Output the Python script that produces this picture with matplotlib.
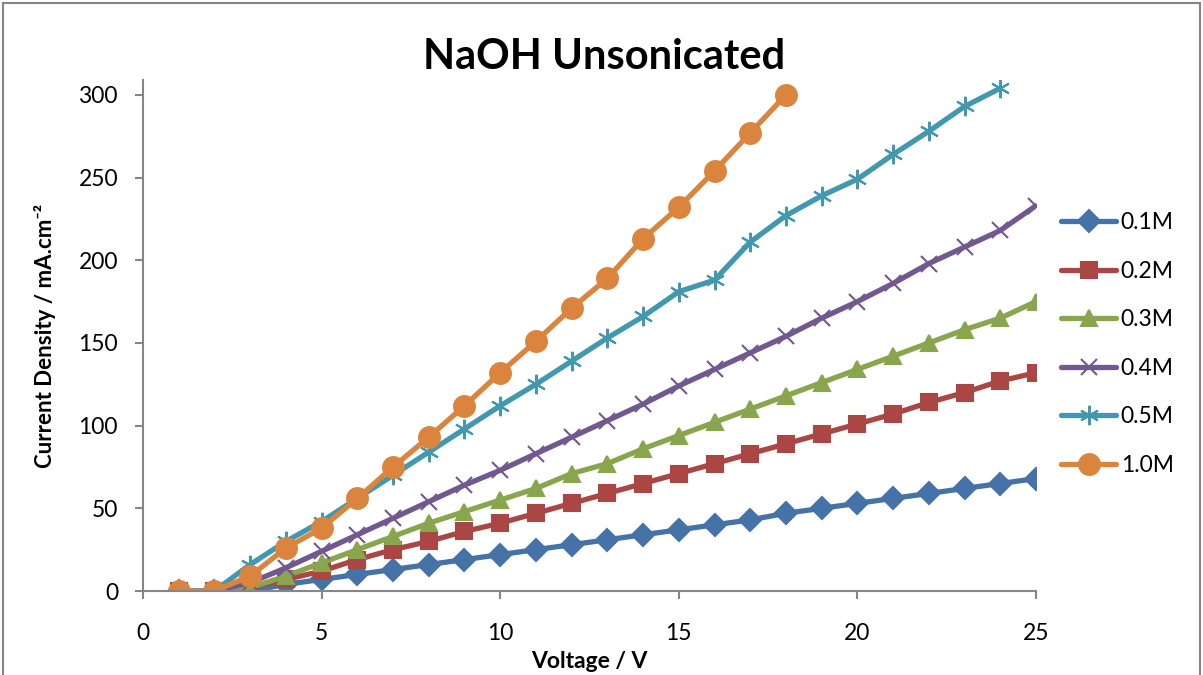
import matplotlib.pyplot as plt
from matplotlib.patches import Rectangle

plt.rcParams['font.family'] = ['Lato', 'DejaVu Sans']

voltage = list(range(1, 26))
labels = ['0.1M', '0.2M', '0.3M', '0.4M', '0.5M', '1.0M']
c01 = [0, 0, 0, 4, 7, 10, 13, 16, 19, 22, 25, 28, 31, 34, 37, 40, 43, 47, 50,
       53, 56, 59, 62, 65, 68]
c02 = [0, 0, 2, 7, 12, 19, 25, 30, 36, 41, 47, 53, 59, 65, 71, 77, 83, 89, 95,
       101, 107, 114, 120, 127, 132]
c03 = [0, 0, 2, 9, 17, 25, 33, 41, 48, 55, 62, 71, 77, 86, 94, 102, 110, 118,
       126, 134, 142, 150, 158, 165, 175]
c04 = [0, 0, 5, 14, 24, 34, 44, 54, 64, 73, 83, 93, 103, 113, 124, 134, 144,
       154, 165, 175, 186, 198, 208, 218, 233]
c05 = [0, 0, 16, 30, 42, 56, 70, 84, 98, 112, 125, 139, 153, 166, 181, 188,
       211, 227, 239, 249, 264, 278, 293, 304]
c10 = [0, 0, 9, 26, 38, 56, 75, 93, 112, 132, 151, 171, 189, 213, 232, 254,
       277, 300]

series = [c01, c02, c03, c04, c05, c10]
colors = ['#4572A7', '#AA4643', '#89A54E', '#71588F', '#4198AF', '#DB843D']
markers = ['D', 's', '^', 'x', (6, 2, 0), 'o']
msizes = [11, 12, 12, 12, 14, 15]

fig = plt.figure(figsize=(12.03, 6.75), dpi=100)
ax = fig.add_axes([143 / 1203, 1 - 591 / 675, (1036 - 143) / 1203, (591 - 80) / 675])

for ys, lab, col, mk, ms in zip(series, labels, colors, markers, msizes):
    ax.plot(voltage[:len(ys)], ys, color=col, lw=3.8, marker=mk, ms=ms,
            mew=1.5, label=lab, solid_capstyle='round')

ax.set_xlim(0, 25)
ax.set_ylim(0, 309)
ax.set_xticks(range(0, 26, 5))
ax.set_yticks(range(0, 301, 50))
for s in ['top', 'right']:
    ax.spines[s].set_visible(False)
for s in ['left', 'bottom']:
    ax.spines[s].set_color('#868686')
    ax.spines[s].set_linewidth(1.5)
ax.tick_params(colors='#868686', labelcolor='black', labelsize=16.5,
               length=6, width=1.5, direction='out')
ax.tick_params(axis='x', pad=17)
ax.tick_params(axis='y', pad=12)

ax.set_xlabel('Voltage / V', fontsize=16.5, fontweight='bold', labelpad=5)
ax.set_ylabel('Current Density / mA.cm⁻²', fontsize=16, fontweight='bold',
              labelpad=16)
fig.text(604 / 1203, 1 - 57 / 675, 'NaOH Unsonicated', ha='center',
         va='center', fontsize=30, fontweight='bold')

fig.legend(loc='upper left', bbox_to_anchor=(1052 / 1203, 1 - 203 / 675),
           frameon=False, fontsize=16.5, handlelength=2.4, labelspacing=1.2,
           handletextpad=0.2, borderaxespad=0)

fig.patches.append(Rectangle((3 / 1203, -0.05), 1197 / 1203, 1.05 - 3 / 675,
                             transform=fig.transFigure, fill=False,
                             edgecolor='#868686', lw=1.5))

fig.savefig('out.png', dpi=100)
